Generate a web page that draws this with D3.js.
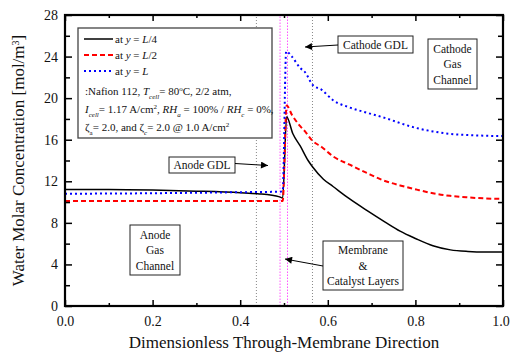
<!DOCTYPE html>
<html>
<head>
<meta charset="utf-8">
<script src="https://cdn.jsdelivr.net/npm/d3@7"></script>
<style>
  html, body { margin: 0; padding: 0; background: #fff; }
  svg { display: block; }
  svg text { font-family: "Liberation Serif", "Times New Roman", Times, "DejaVu Serif", serif; }
</style>
</head>
<body>
<div id="chart"></div>
<script>
// series data
const xQuarter = [0, 0.1, 0.2, 0.3, 0.4, 0.44, 0.49, 0.497, 0.506, 0.52, 0.537, 0.555, 0.565, 0.59, 0.612, 0.65, 0.689, 0.73, 0.765, 0.8, 0.84, 0.88, 0.92, 0.96, 1.0];
const yQuarter = [11.2, 11.2, 11.15, 11.05, 10.9, 10.8, 10.5, 10.4, 18.2, 16.6, 15.4, 14.0, 13.4, 12.2, 11.5, 10.3, 9.2, 8.1, 7.2, 6.5, 5.8, 5.4, 5.25, 5.2, 5.2];

const xHalf = [0, 0.2, 0.4, 0.49, 0.497, 0.506, 0.518, 0.537, 0.548, 0.565, 0.586, 0.612, 0.65, 0.689, 0.726, 0.765, 0.803, 0.84, 0.879, 0.92, 0.96, 1.0];
const yHalf = [10.1, 10.1, 10.1, 10.1, 10.1, 19.3, 18.4, 17.3, 16.8, 15.9, 15.3, 14.4, 13.6, 12.8, 12.1, 11.6, 11.2, 10.85, 10.6, 10.45, 10.35, 10.3];

const xFull = [0, 0.2, 0.4, 0.49, 0.497, 0.505, 0.518, 0.537, 0.548, 0.565, 0.586, 0.612, 0.65, 0.689, 0.73, 0.765, 0.8, 0.84, 0.88, 0.92, 0.96, 1.0];
const yFull = [10.8, 10.85, 10.95, 11.0, 11.05, 24.5, 24.0, 22.9, 22.5, 21.3, 20.8, 19.8, 19.1, 18.6, 18.1, 17.6, 17.15, 16.8, 16.55, 16.45, 16.38, 16.35];

const seriesNames = ['L/4', 'L/2', 'L'];
const xMajor = [0, 0.2, 0.4, 0.6, 0.8, 1.0];
const xMinor = [0.1, 0.3, 0.5, 0.7, 0.9];
const yMajor = [0, 4, 8, 12, 16, 20, 24, 28];
const yMinor = [2, 6, 10, 14, 18, 22, 26];
const gdlEdges = [0.437, 0.565];
const membraneEdges = [0.491, 0.508];

const W = 511, H = 356;
const margin = { top: 15, right: 8, bottom: 50, left: 65 };
const serif = 'Liberation Serif, Times New Roman, Times, DejaVu Serif, serif';

const svg = d3.select('#chart').append('svg')
  .attr('width', W)
  .attr('height', H)
  .attr('font-family', serif);

const x = d3.scaleLinear().domain([0, 1]).range([margin.left, W - margin.right]);
const y = d3.scaleLinear().domain([0, 28]).range([H - margin.bottom, margin.top]);

// boundaries between layers
svg.selectAll('.gdl').data(gdlEdges).enter().append('line')
  .attr('x1', d => x(d)).attr('x2', d => x(d))
  .attr('y1', y(0)).attr('y2', y(28))
  .style('stroke', '#888').style('stroke-width', 1).style('stroke-dasharray', '1,2');
svg.selectAll('.mem').data(membraneEdges).enter().append('line')
  .attr('x1', d => x(d)).attr('x2', d => x(d))
  .attr('y1', y(0)).attr('y2', y(28))
  .style('stroke', '#ff55ff').style('stroke-width', 1).style('stroke-dasharray', '1.5,1.5');

const line = d3.line()
  .x(d => x(d[0]))
  .y(d => y(d[1]))
  .curve(d3.curveMonotoneX);

const series = [
  { xs: xQuarter, ys: yQuarter, color: '#000', width: 1.5, dash: null },
  { xs: xHalf, ys: yHalf, color: '#ff0000', width: 2, dash: '5,3' },
  { xs: xFull, ys: yFull, color: '#0000ff', width: 2, dash: '2,3' }
];

series.forEach(s => {
  svg.append('path')
    .datum(s.xs.map((v, i) => [v, s.ys[i]]))
    .attr('d', line)
    .style('fill', 'none')
    .style('stroke', s.color)
    .style('stroke-width', s.width)
    .style('stroke-dasharray', s.dash);
});

// axes, ticks pointing inward on all sides
const tickStyle = g => {
  g.attr('font-family', serif);
  g.select('.domain').remove();
  g.selectAll('line').style('stroke', '#000').style('stroke-width', 1.5);
  g.selectAll('text').style('font-size', '14px').attr('fill', '#111');
};

const xAxisG = svg.append('g').attr('transform', `translate(0,${y(0)})`)
  .call(d3.axisBottom(x).tickValues(xMajor).tickSize(-6).tickPadding(10).tickFormat(d3.format('.1f')))
  .call(tickStyle);
// keep the last label inside the window
xAxisG.selectAll('text').filter(d => d === 1).attr('dx', -2.5);

svg.append('g').attr('transform', `translate(0,${y(0)})`)
  .call(d3.axisBottom(x).tickValues(xMinor).tickSize(-3).tickFormat(''))
  .call(tickStyle);
svg.append('g').attr('transform', `translate(0,${y(28)})`)
  .call(d3.axisTop(x).tickValues(xMajor).tickSize(-6).tickFormat(''))
  .call(tickStyle);
svg.append('g').attr('transform', `translate(0,${y(28)})`)
  .call(d3.axisTop(x).tickValues(xMinor).tickSize(-3).tickFormat(''))
  .call(tickStyle);
svg.append('g').attr('transform', `translate(${x(0)},0)`)
  .call(d3.axisLeft(y).tickValues(yMajor).tickSize(-7).tickPadding(7).tickFormat(d3.format('d')))
  .call(tickStyle);
svg.append('g').attr('transform', `translate(${x(0)},0)`)
  .call(d3.axisLeft(y).tickValues(yMinor).tickSize(-5).tickFormat(''))
  .call(tickStyle);
svg.append('g').attr('transform', `translate(${x(1)},0)`)
  .call(d3.axisRight(y).tickValues(yMajor).tickSize(-7).tickFormat(''))
  .call(tickStyle);
svg.append('g').attr('transform', `translate(${x(1)},0)`)
  .call(d3.axisRight(y).tickValues(yMinor).tickSize(-5).tickFormat(''))
  .call(tickStyle);

svg.append('rect')
  .attr('x', x(0)).attr('y', y(28))
  .attr('width', x(1) - x(0)).attr('height', y(0) - y(28))
  .style('fill', 'none').style('stroke', '#000').style('stroke-width', 2.2);

// axis titles
svg.append('text')
  .attr('x', (x(0) + x(1)) / 2).attr('y', 348)
  .attr('text-anchor', 'middle')
  .style('font-size', '17px').attr('fill', '#111')
  .text('Dimensionless Through-Membrane Direction');

const yTitle = svg.append('text')
  .attr('transform', `translate(24,${(y(0) + y(28)) / 2}) rotate(-90)`)
  .attr('text-anchor', 'middle')
  .style('font-size', '17px').attr('fill', '#111');
yTitle.append('tspan').text('Water Molar Concentration [mol/m');
yTitle.append('tspan').attr('baseline-shift', 'super').style('font-size', '10px').text('3');
yTitle.append('tspan').text(']');

// legend
const legend = svg.append('g');
legend.append('rect')
  .attr('x', 78).attr('y', 28).attr('width', 194).attr('height', 110)
  .style('fill', '#fff').style('stroke', '#444').style('stroke-width', 1.3);

series.forEach((s, i) => {
  const ly = 39 + i * 16;
  legend.append('line')
    .attr('x1', 84).attr('x2', 113).attr('y1', ly).attr('y2', ly)
    .style('stroke', s.color).style('stroke-width', s.width)
    .style('stroke-dasharray', s.dash);
  const t = legend.append('text').attr('x', 115).attr('y', ly + 4)
    .style('font-size', '11px').attr('fill', '#111');
  t.append('tspan').text('at ');
  t.append('tspan').style('font-style', 'italic').text('y');
  t.append('tspan').text(' = ');
  t.append('tspan').style('font-style', 'italic').text(seriesNames[i].split('/')[0]);
  if (seriesNames[i].includes('/')) t.append('tspan').text('/' + seriesNames[i].split('/')[1]);
});

// rich text lines: [text, style] pieces; style: i = italic, sub, sup
const infoLines = [
  [[':Nafion 112, '], ['T', 'i'], ['cell', 'isub'], ['= 80'], ['o', 'sup'], ['C, 2/2 atm,']],
  [['I', 'i'], ['cell', 'isub'], ['= 1.17 A/cm'], ['2', 'sup'], [', '], ['RH', 'i'], ['a', 'isub'], [' = 100% / '], ['RH', 'i'], ['c', 'isub'], [' = 0%,']],
  [['ζ'], ['a', 'sub'], ['= 2.0, and ζ'], ['c', 'isub'], ['= 2.0 @ 1.0 A/cm'], ['2', 'sup']]
];

infoLines.forEach((parts, i) => {
  const t = legend.append('text').attr('x', 85).attr('y', 95 + i * 18)
    .style('font-size', '11px').attr('fill', '#111');
  parts.forEach(([txt, st]) => {
    const sp = t.append('tspan').text(txt);
    if (st && st.includes('i')) sp.style('font-style', 'italic');
    if (st && st.includes('sub')) sp.attr('baseline-shift', 'sub').style('font-size', '7px');
    if (st && st.includes('sup')) sp.attr('baseline-shift', 'super').style('font-size', '7px');
  });
});

// annotations
const defs = svg.append('defs');
defs.append('marker')
  .attr('id', 'arrow').attr('viewBox', '0 0 10 10')
  .attr('refX', 10).attr('refY', 5)
  .attr('markerWidth', 9).attr('markerHeight', 7)
  .attr('markerUnits', 'userSpaceOnUse')
  .attr('orient', 'auto')
  .append('path').attr('d', 'M0,0 L10,5 L0,10 z').attr('fill', '#000');

const notes = [
  { lines: ['Anode GDL'], box: [169, 157, 66, 16], arrow: [235, 163.5, 268, 165.5] },
  { lines: ['Cathode GDL'], box: [338, 36, 75, 17], arrow: [338, 45, 305, 47] },
  { lines: ['Cathode', 'Gas', 'Channel'], box: [428, 39, 49, 50], arrow: null },
  { lines: ['Anode', 'Gas', 'Channel'], box: [130, 225, 50, 50], arrow: null },
  { lines: ['Membrane', '&', 'Catalyst Layers'], box: [323, 241, 80, 49], arrow: [323, 266, 285, 259] }
];

notes.forEach(n => {
  const [bx, by, bw, bh] = n.box;
  svg.append('rect')
    .attr('x', bx).attr('y', by).attr('width', bw).attr('height', bh)
    .style('fill', '#fff').style('stroke', '#222').style('stroke-width', 1);
  const step = n.lines.length > 1 ? 15.5 : 0;
  const cy = by + bh / 2 - step * (n.lines.length - 1) / 2;
  n.lines.forEach((l, i) => {
    svg.append('text')
      .attr('x', bx + bw / 2).attr('y', cy + i * step + 4)
      .attr('text-anchor', 'middle')
      .style('font-size', '11.5px').attr('fill', '#111')
      .text(l);
  });
  if (n.arrow) {
    svg.append('line')
      .attr('x1', n.arrow[0]).attr('y1', n.arrow[1])
      .attr('x2', n.arrow[2]).attr('y2', n.arrow[3])
      .style('stroke', '#000').style('stroke-width', 1)
      .attr('marker-end', 'url(#arrow)');
  }
});
</script>
</body>
</html>
